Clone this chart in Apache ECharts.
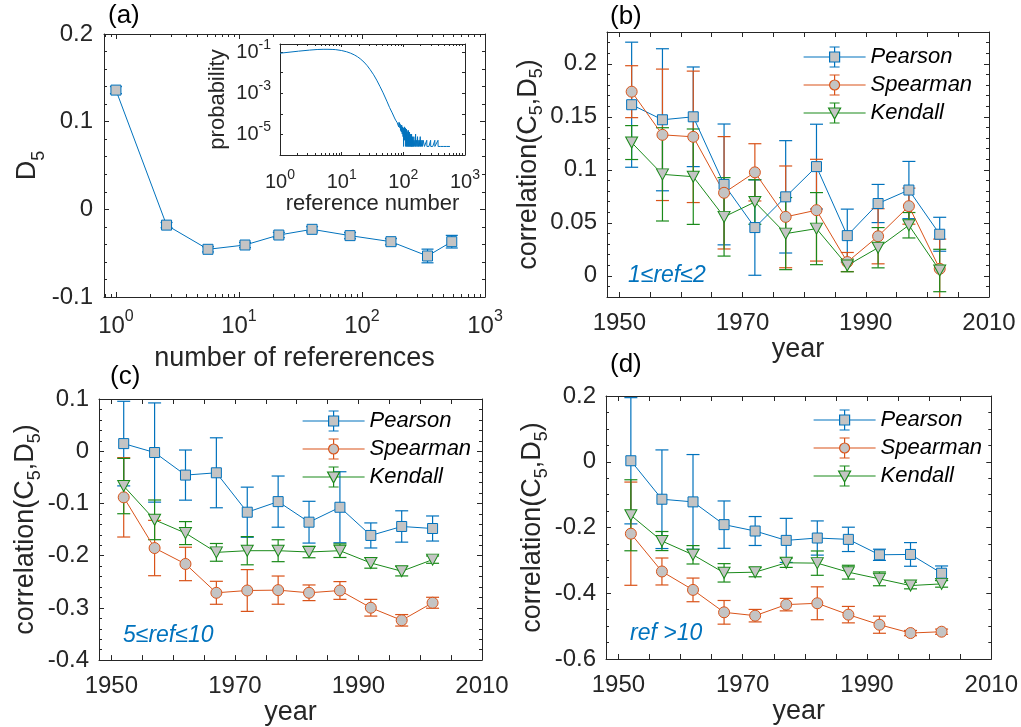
<!DOCTYPE html>
<html><head><meta charset="utf-8">
<script src="https://cdn.jsdelivr.net/npm/echarts@6/dist/echarts.min.js"></script>
<style>html,body{margin:0;padding:0;background:#fff}#c{width:1021px;height:727px}</style>
</head><body><div id="c"></div>
<script>
const FONT = '"Liberation Sans", Arial, Helvetica, sans-serif';

// ---------- panel (a) ----------
const refNumbers = [1, 2.58, 5.6, 11.2, 21.1, 39.3, 80, 172, 341, 537];
const d5Values = [0.136, -0.018, -0.0456, -0.0407, -0.0293, -0.0228, -0.030, -0.0369, -0.0532, -0.0369];
const d5Errors = [0.004, 0.003, 0.003, 0.003, 0.003, 0.003, 0.0035, 0.0035, 0.0078, 0.0072];

// ---------- inset of (a) ----------
const insetRef = [1,2,3,4,5,6,7,8,10,12,14,16,18,20,23,26,29,33,37,42,47,54,60,66,72,
  73,74,75,76,77,78,79,80,81,82,83,84,85,86,87,88,89,90,91,92,93,94,95,96,97,98,99,100,
  101,102,103,104,105,106,107,108,109,110,111,112,113,114,115,116,117,118,119,120,
  121,122,123,124,125,126,127,128,129,130,131,132,133,134,135,136,137,138,139,140,
  142,144,146,148,150,152,154,156,158,160,162,164,166,168,170,172,174,176,178,180,
  182,184,186,188,190,192,194,196,198,200,202,204,206,208,210,
  220,240,241,260,277,278,300,324,325,345,365,366,400,450,500,570];
const insetProb = [0.0891,0.112,0.126,0.135,0.138,0.138,0.136,0.133,0.120,0.105,0.0891,0.0741,0.0603,0.0479,0.0331,0.0219,0.0141,0.00794,0.00437,0.00209,0.00105,4.17e-4,2.0e-4,1.12e-4,6.3e-5,
  5.72e-5,6.5e-5,4.94e-5,5.46e-5,4.16e-5,5.2e-5,3.9e-5,4.68e-5,3.12e-5,4.42e-5,3.38e-5,2.34e-5,3.9e-5,2.86e-5,3.64e-5,2.08e-5,3.12e-5,1.56e-5,2.6e-5,2.34e-5,1.3e-5,2.86e-5,1.82e-5,1.04e-5,2.34e-5,1.56e-5,7.8e-6,2.08e-5,
  2.6e-6,1.82e-5,1.04e-5,2.34e-5,5.2e-6,1.56e-5,7.8e-6,2.08e-5,2.6e-6,1.3e-5,5.2e-6,1.82e-5,2.6e-6,1.04e-5,1.56e-5,2.6e-6,7.8e-6,1.3e-5,2.6e-6,5.2e-6,
  1.56e-5,2.6e-6,1.04e-5,5.2e-6,2.6e-6,1.3e-5,7.8e-6,2.6e-6,5.2e-6,1.04e-5,2.6e-6,2.6e-6,7.8e-6,5.2e-6,2.6e-6,1.04e-5,2.6e-6,5.2e-6,2.6e-6,7.8e-6,
  2.6e-6,5.2e-6,2.6e-6,7.8e-6,2.6e-6,2.6e-6,5.2e-6,2.6e-6,1.04e-5,2.6e-6,2.6e-6,5.2e-6,2.6e-6,2.6e-6,7.8e-6,2.6e-6,5.2e-6,2.6e-6,2.6e-6,2.6e-6,
  5.2e-6,2.6e-6,2.6e-6,7.8e-6,2.6e-6,2.6e-6,5.2e-6,2.6e-6,2.6e-6,2.6e-6,5.2e-6,2.6e-6,2.6e-6,2.6e-6,5.2e-6,
  2.6e-6,5.2e-6,2.6e-6,2.6e-6,5.2e-6,2.6e-6,2.6e-6,5.2e-6,2.6e-6,2.6e-6,5.2e-6,2.6e-6,2.6e-6,2.6e-6,2.6e-6,2.6e-6];

// ---------- panels (b)-(d) ----------
const years = [1952, 1957, 1962, 1967, 1972, 1977, 1982, 1987, 1992, 1997, 2002];

const pearsonB     = [0.1614, 0.1472, 0.150, 0.0862, 0.0455, 0.0745, 0.103, 0.0379, 0.0682, 0.0809, 0.0392];
const pearsonBErr  = [0.059, 0.067, 0.047, 0.057, 0.045, 0.053, 0.04, 0.025, 0.018, 0.027, 0.016];
const spearmanB    = [0.1737, 0.133, 0.1311, 0.0783, 0.0976, 0.0556, 0.0619, 0.013, 0.0373, 0.0657, 0.0066];
const spearmanBErr = [0.0245, 0.062, 0.062, 0.053, 0.027, 0.048, 0.048, 0.009, 0.026, 0.017, 0.028];
const kendallB     = [0.1257, 0.0957, 0.0935, 0.0556, 0.0696, 0.0398, 0.0445, 0.0098, 0.0265, 0.0477, 0.005];
const kendallBErr  = [0.016, 0.044, 0.045, 0.037, 0.021, 0.034, 0.034, 0.006, 0.019, 0.012, 0.02];

const pearsonC     = [0.0146, -0.0025, -0.0457, -0.0413, -0.1168, -0.0965, -0.1359, -0.1073, -0.1613, -0.1441, -0.148];
const pearsonCErr  = [0.081, 0.095, 0.048, 0.067, 0.048, 0.049, 0.04, 0.068, 0.024, 0.03, 0.024];
const spearmanC    = [-0.0883, -0.1854, -0.2159, -0.2711, -0.2667, -0.266, -0.2711, -0.2667, -0.2997, -0.3238, -0.2902];
const spearmanCErr = [0.076, 0.053, 0.032, 0.022, 0.04, 0.027, 0.015, 0.017, 0.016, 0.011, 0.0105];
const kendallC     = [-0.0667, -0.1314, -0.1568, -0.1937, -0.1905, -0.1905, -0.193, -0.1905, -0.214, -0.2298, -0.2076];
const kendallCErr  = [0.053, 0.038, 0.022, 0.017, 0.027, 0.021, 0.011, 0.013, 0.01, 0.009, 0.007];

const pearsonD     = [0.003, -0.114, -0.1221, -0.1913, -0.2107, -0.2392, -0.232, -0.2361, -0.283, -0.2819, -0.339];
const pearsonDErr  = [0.192, 0.15, 0.144, 0.072, 0.044, 0.067, 0.052, 0.037, 0.017, 0.036, 0.022];
const spearmanD    = [-0.2188, -0.3338, -0.3898, -0.458, -0.4682, -0.4346, -0.4305, -0.4651, -0.4957, -0.5211, -0.517];
const spearmanDErr = [0.157, 0.041, 0.036, 0.036, 0.019, 0.019, 0.05, 0.025, 0.026, 0.008, 0.008];
const kendallD     = [-0.1628, -0.2412, -0.283, -0.3379, -0.3359, -0.3074, -0.3084, -0.3359, -0.3562, -0.3766, -0.3715];
const kendallDErr  = [0.108, 0.029, 0.028, 0.028, 0.014, 0.014, 0.037, 0.021, 0.021, 0.01, 0.01];

const panelLabels = ['(a)', '(b)', '(c)', '(d)'];
const rangeNotes = ['1\u2264ref\u22642', '5\u2264ref\u226410', 'ref >10'];
const methodNames = ['Pearson', 'Spearman', 'Kendall'];

// ---------- styling ----------
const COL = { blue: '#0072BD', orange: '#D95319', green: '#1A8A1A', face: '#C4C4C4', axis: '#262626' };
const methodColors = [COL.blue, COL.orange, COL.green];

function nearMultiple(v, step) { const q = v / step; return Math.abs(q - Math.round(q)) < 1e-6; }
function stepLabel(step) { return v => nearMultiple(v, step) ? String(parseFloat(v.toFixed(4))) : ''; }
function yearLabel(v) { return (v >= 1950 && nearMultiple(v - 1950, 20)) ? String(Math.round(v)) : ''; }
function powLabel(oddOnly) {
  return v => {
    const e = Math.log10(v), r = Math.round(e);
    if (Math.abs(e - r) > 1e-6) return '';
    if (oddOnly && Math.abs(r) % 2 !== 1) return '';
    return '10{p|' + r + '}';
  };
}

function axisCommon(gridIndex, position, showLabel) {
  return {
    gridIndex, position,
    axisLine: { show: true, onZero: false, lineStyle: { color: COL.axis, width: 1 } },
    axisTick: { show: true, inside: true, length: 5, lineStyle: { color: COL.axis, width: 1 } },
    splitLine: { show: false },
    axisLabel: { show: showLabel, color: COL.axis, fontSize: 24, fontFamily: FONT },
    nameTextStyle: { color: COL.axis, fontSize: 27, fontFamily: FONT },
    silent: true
  };
}
function mk(base, extra) {
  const o = Object.assign({}, base, extra);
  if (extra.axisLabel) o.axisLabel = Object.assign({}, base.axisLabel, extra.axisLabel);
  if (extra.nameTextStyle) o.nameTextStyle = Object.assign({}, base.nameTextStyle, extra.nameTextStyle);
  return o;
}

const xAxes = [], yAxes = [];
// year x axes for grid g
function yearXAxes(g, nameGap) {
  const ext = { type: 'value', min: 1948, max: 2010, minInterval: 5, maxInterval: 5 };
  xAxes.push(mk(axisCommon(g, 'bottom', true), Object.assign({}, ext, {
    axisLabel: { formatter: yearLabel, margin: 14 },
    name: 'year', nameLocation: 'middle', nameGap })));
  xAxes.push(mk(axisCommon(g, 'top', false), ext));
}
function valYAxes(g, min, max, step, minorSplit, nameGap, useMinMaxInterval) {
  const ext = { type: 'value', min, max, minorTick: { show: true, splitNumber: minorSplit, length: 3, lineStyle: { color: COL.axis } } };
  if (useMinMaxInterval) { ext.minInterval = step; ext.maxInterval = step; } else { ext.interval = step; }
  yAxes.push(mk(axisCommon(g, 'left', true), Object.assign({}, ext, {
    axisLabel: { formatter: stepLabel(step), margin: 10 },
    name: 'correlation(C{s|5},D{s|5})', nameLocation: 'middle', nameGap,
    nameTextStyle: { rich: { s: { fontSize: 18, fontFamily: FONT, color: COL.axis, padding: [18, 0, 0, 0] } } } })));
  yAxes.push(mk(axisCommon(g, 'right', false), ext));
}

// grid 0: panel (a)
{
  const ext = { type: 'log', logBase: 10, min: 0.8, max: 1000,
    minorTick: { show: true, splitNumber: 10, length: 3, lineStyle: { color: COL.axis } } };
  xAxes.push(mk(axisCommon(0, 'bottom', true), Object.assign({}, ext, {
    axisLabel: { formatter: powLabel(false), margin: 12,
      rich: { p: { fontSize: 16, fontFamily: FONT, color: COL.axis, padding: [0, 0, 18, 0] } } },
    name: 'number of refererences', nameLocation: 'middle', nameGap: 48 })));
  xAxes.push(mk(axisCommon(0, 'top', false), ext));
  const yext = { type: 'value', min: -0.1, max: 0.2, interval: 0.1,
    minorTick: { show: true, splitNumber: 5, length: 3, lineStyle: { color: COL.axis } } };
  yAxes.push(mk(axisCommon(0, 'left', true), Object.assign({}, yext, {
    axisLabel: { formatter: stepLabel(0.1), margin: 11 },
    name: 'D{s|5}', nameLocation: 'middle', nameGap: 56,
    nameTextStyle: { rich: { s: { fontSize: 18, fontFamily: FONT, color: COL.axis, padding: [22, 0, 0, 0] } } } })));
  yAxes.push(mk(axisCommon(0, 'right', false), yext));
}
// grid 1: (b)
yearXAxes(1, 33); valYAxes(1, -0.02, 0.23, 0.05, 5, 54, true);
// grid 2: (c)
yearXAxes(2, 29); valYAxes(2, -0.4, 0.1, 0.1, 5, 54, false);
// grid 3: (d)
yearXAxes(3, 31); valYAxes(3, -0.6, 0.2, 0.2, 4, 54, false);
// grid 4: inset
{
  const ext = { type: 'log', logBase: 10, min: 1, max: 1000,
    minorTick: { show: true, splitNumber: 10, length: 2, lineStyle: { color: COL.axis } } };
  const ax = axisCommon(4, 'bottom', true);
  ax.axisTick = Object.assign({}, ax.axisTick, { length: 3 });
  xAxes.push(mk(ax, Object.assign({}, ext, {
    axisLabel: { formatter: powLabel(false), fontSize: 20, margin: 13,
      rich: { p: { fontSize: 14, fontFamily: FONT, color: COL.axis, padding: [0, 0, 14, 0] } } },
    name: 'reference number', nameLocation: 'middle', nameGap: 34, nameTextStyle: { fontSize: 22 } })));
  const axt = axisCommon(4, 'top', false); axt.axisTick = ax.axisTick;
  xAxes.push(mk(axt, ext));
  const yext = { type: 'log', logBase: 10, min: 1e-6, max: 0.25 };
  const ay = axisCommon(4, 'left', true); ay.axisTick = ax.axisTick;
  yAxes.push(mk(ay, Object.assign({}, yext, {
    axisLabel: { formatter: powLabel(true), fontSize: 20, margin: 9,
      rich: { p: { fontSize: 14, fontFamily: FONT, color: COL.axis, padding: [0, 0, 14, 0] } } },
    name: 'probability', nameLocation: 'middle', nameGap: 51, nameTextStyle: { fontSize: 22 } })));
  const ayr = axisCommon(4, 'right', false); ayr.axisTick = ax.axisTick;
  yAxes.push(mk(ayr, yext));
}

// ---------- series ----------
function errSeries(xs, vals, errs, color, xi, cap) {
  return {
    type: 'custom', xAxisIndex: xi, yAxisIndex: xi, clip: true, silent: true, z: 2,
    encode: { x: 0, y: [1, 2] },
    data: xs.map((x, i) => [x, vals[i] - errs[i], vals[i] + errs[i]]),
    renderItem(params, api) {
      const x = api.value(0);
      const a = api.coord([x, api.value(2)]), b = api.coord([x, api.value(1)]);
      const st = { stroke: color, lineWidth: 1.2 };
      return { type: 'group', children: [
        { type: 'line', shape: { x1: a[0], y1: a[1], x2: b[0], y2: b[1] }, style: st },
        { type: 'line', shape: { x1: a[0] - cap, y1: a[1], x2: a[0] + cap, y2: a[1] }, style: st },
        { type: 'line', shape: { x1: b[0] - cap, y1: b[1], x2: b[0] + cap, y2: b[1] }, style: st }
      ] };
    }
  };
}
const symbols = [['rect', 10, 0], ['circle', 11, 0], ['triangle', [12, 11], 180]];
function lineSeries(name, xs, vals, k, xi) {
  return {
    type: 'line', name, xAxisIndex: xi, yAxisIndex: xi, z: 3, silent: true,
    data: xs.map((x, i) => [x, vals[i]]),
    symbol: symbols[k][0], symbolSize: symbols[k][1], symbolRotate: symbols[k][2], showAllSymbol: true,
    lineStyle: { color: methodColors[k], width: 1 },
    itemStyle: { color: COL.face, borderColor: methodColors[k], borderWidth: 1 },
    emphasis: { disabled: true }
  };
}

const series = [];
// (a)
series.push(errSeries(refNumbers, d5Values, d5Errors, COL.blue, 0, 6));
series.push(lineSeries('D5', refNumbers, d5Values, 0, 0));
// inset
series.push({ type: 'line', name: 'pdf', xAxisIndex: 8, yAxisIndex: 8, silent: true,
  data: insetRef.map((x, i) => [x, insetProb[i]]), showSymbol: false,
  lineStyle: { color: COL.blue, width: 1 }, emphasis: { disabled: true } });
// (b)-(d)
const panelData = [
  [[pearsonB, pearsonBErr], [spearmanB, spearmanBErr], [kendallB, kendallBErr]],
  [[pearsonC, pearsonCErr], [spearmanC, spearmanCErr], [kendallC, kendallCErr]],
  [[pearsonD, pearsonDErr], [spearmanD, spearmanDErr], [kendallD, kendallDErr]]
];
panelData.forEach((pd, p) => {
  const xi = 2 * (p + 1);
  pd.forEach((m, k) => {
    series.push(errSeries(years, m[0], m[1], methodColors[k], xi, 6.5));
    series.push(lineSeries(methodNames[k], years, m[0], k, xi));
  });
});

// ---------- legends ----------
const iconPaths = [
  'path://M0,10L26,10M36,10L62,10M31,0L31,5M31,15L31,20M26,0L36,0M26,20L36,20M26,5L36,5L36,15L26,15Z',
  'path://M0,10L26,10M36,10L62,10M31,0L31,5M31,15L31,20M26,0L36,0M26,20L36,20M36,10A5,5,0,1,1,26,10A5,5,0,1,1,36,10Z',
  'path://M0,10L27.7,10M34.3,10L62,10M31,0L31,5M31,16L31,20M26,0L36,0M26,20L36,20M25,5L37,5L31,16Z'
];
function makeLegend(left, top) {
  return {
    left, top, orient: 'vertical', padding: 0, itemGap: 6, itemWidth: 62, itemHeight: 20,
    selectedMode: false, symbolKeepAspect: false,
    textStyle: { fontSize: 22, fontStyle: 'italic', color: '#000', fontFamily: FONT },
    data: methodNames.map((n, k) => ({ name: n, icon: iconPaths[k],
      itemStyle: { color: COL.face, borderColor: methodColors[k], borderWidth: 1.2 } }))
  };
}

// ---------- text ----------
function txt(left, top, text, size, color, italic) {
  return { type: 'text', left, top, silent: true,
    style: { text, fontSize: size, fontFamily: FONT, fontStyle: italic ? 'italic' : 'normal', fill: color } };
}

const option = {
  animation: false,
  textStyle: { fontFamily: FONT },
  grid: [
    { left: 104, top: 34, width: 381, height: 263 },
    { left: 607, top: 32, width: 382, height: 265 },
    { left: 99, top: 399, width: 383, height: 264 },
    { left: 606, top: 396, width: 386, height: 263 },
    { left: 280, top: 44, width: 185, height: 111 }
  ],
  xAxis: xAxes, yAxis: yAxes,
  legend: [makeLegend(803, 46), makeLegend(302, 410), makeLegend(813, 409)],
  series,
  graphic: [
    txt(108, 3, panelLabels[0], 26, '#000'),
    txt(610, 4, panelLabels[1], 26, '#000'),
    txt(110, 364, panelLabels[2], 26, '#000'),
    txt(610, 352, panelLabels[3], 26, '#000'),
    txt(628, 264, rangeNotes[0], 23, COL.blue, true),
    txt(123, 624, rangeNotes[1], 23, COL.blue, true),
    txt(630, 622, rangeNotes[2], 23, COL.blue, true)
  ]
};
const chart = echarts.init(document.getElementById('c'), null, { renderer: 'canvas' });
chart.setOption(option);
</script></body></html>
